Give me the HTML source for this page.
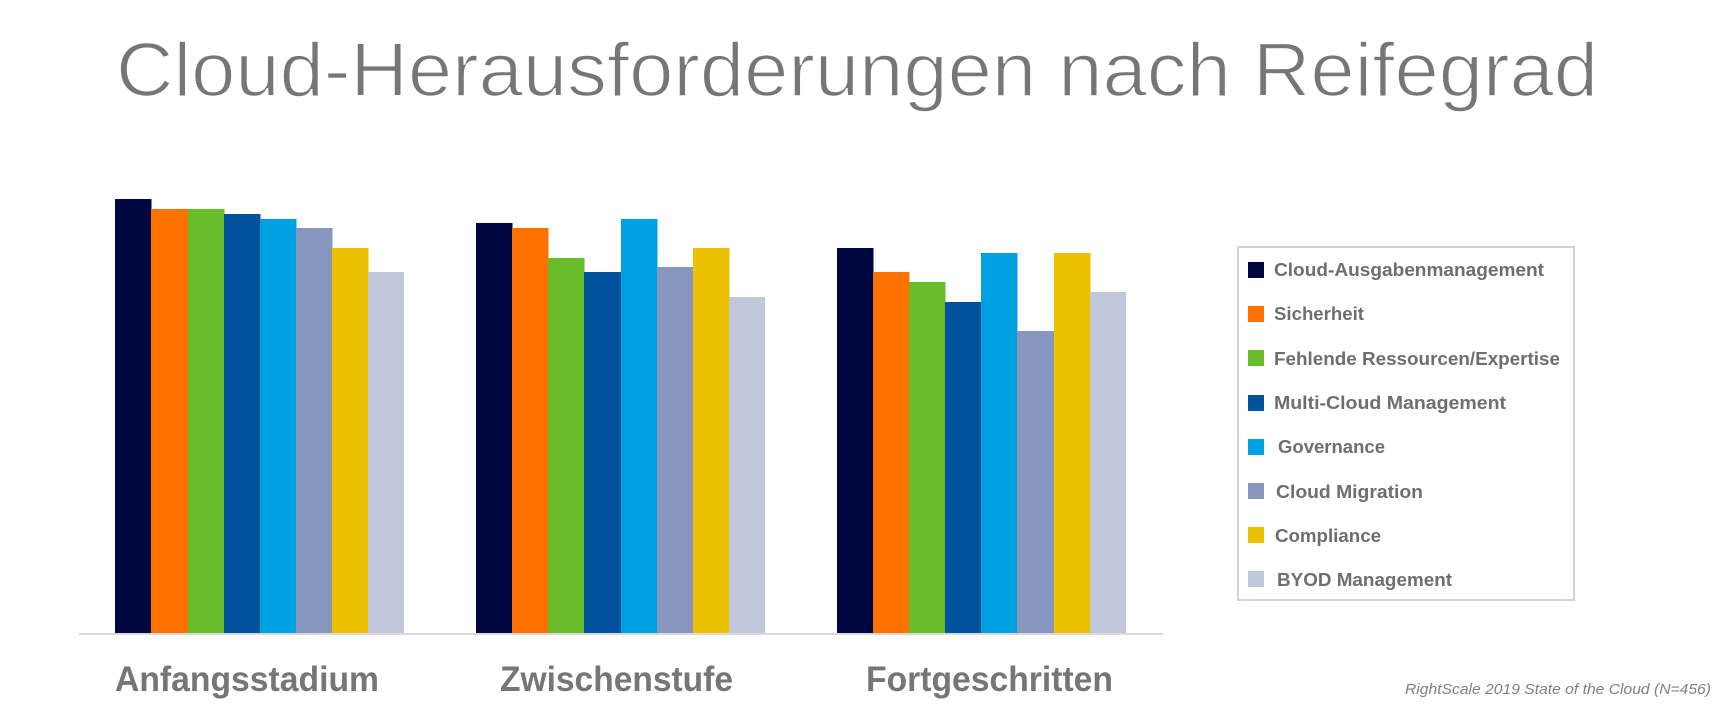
<!DOCTYPE html>
<html>
<head>
<meta charset="utf-8">
<style>
  html,body{margin:0;padding:0;background:#fff;}
  svg{display:block;}
  text{font-family:"Liberation Sans", sans-serif;}
</style>
</head>
<body>
<svg width="1736" height="725" viewBox="0 0 1736 725" xmlns="http://www.w3.org/2000/svg">
  <rect x="0" y="0" width="1736" height="725" fill="#fff"/>
  <!-- Title -->
  <text x="116" y="96" font-size="76" fill="#767676" stroke="#ffffff" stroke-width="1.6" textLength="1482" lengthAdjust="spacingAndGlyphs">Cloud-Herausforderungen nach Reifegrad</text>

  <!-- Group 1 -->
  <rect x="115" y="199" width="36.5" height="434" fill="#000640"/>
  <rect x="151" y="209" width="37.5" height="424" fill="#ff7200"/>
  <rect x="188" y="209" width="36.5" height="424" fill="#6abd2a"/>
  <rect x="224" y="214" width="36.5" height="419" fill="#00529b"/>
  <rect x="260" y="219" width="36.5" height="414" fill="#00a1e0"/>
  <rect x="296" y="228" width="36.5" height="405" fill="#8696bd"/>
  <rect x="332" y="248" width="36.5" height="385" fill="#ecc200"/>
  <rect x="368" y="272" width="36" height="361" fill="#c2c8db"/>

  <!-- Group 2 -->
  <rect x="476" y="223" width="36.5" height="410" fill="#000640"/>
  <rect x="512" y="228" width="36.5" height="405" fill="#ff7200"/>
  <rect x="548" y="258" width="36.5" height="375" fill="#6abd2a"/>
  <rect x="584" y="272" width="37.5" height="361" fill="#00529b"/>
  <rect x="621" y="219" width="36.5" height="414" fill="#00a1e0"/>
  <rect x="657" y="267" width="36.5" height="366" fill="#8696bd"/>
  <rect x="693" y="248" width="36.5" height="385" fill="#ecc200"/>
  <rect x="729" y="297" width="36" height="336" fill="#c2c8db"/>

  <!-- Group 3 -->
  <rect x="837" y="248" width="36.5" height="385" fill="#000640"/>
  <rect x="873" y="272" width="36.5" height="361" fill="#ff7200"/>
  <rect x="909" y="282" width="36.5" height="351" fill="#6abd2a"/>
  <rect x="945" y="302" width="36.5" height="331" fill="#00529b"/>
  <rect x="981" y="253" width="36.5" height="380" fill="#00a1e0"/>
  <rect x="1017" y="331" width="37.5" height="302" fill="#8696bd"/>
  <rect x="1054" y="253" width="36.5" height="380" fill="#ecc200"/>
  <rect x="1090" y="292" width="36" height="341" fill="#c2c8db"/>

  <!-- Axis -->
  <rect x="79" y="633" width="1084" height="2" fill="#d9d9d9"/>

  <!-- Category labels -->
  <text x="115" y="691" font-size="35" font-weight="bold" fill="#767676" textLength="264" lengthAdjust="spacingAndGlyphs">Anfangsstadium</text>
  <text x="500" y="691" font-size="35" font-weight="bold" fill="#767676" textLength="233" lengthAdjust="spacingAndGlyphs">Zwischenstufe</text>
  <text x="866" y="691" font-size="35" font-weight="bold" fill="#767676" textLength="247" lengthAdjust="spacingAndGlyphs">Fortgeschritten</text>

  <!-- Legend -->
  <rect x="1238" y="247" width="336" height="353" fill="#fff" stroke="#d5d3c7" stroke-width="2"/>
  <g font-size="18.5" font-weight="bold" fill="#6e6e6e">
    <rect x="1248" y="262" width="16" height="16" fill="#000640"/>
    <text x="1274" y="276" textLength="270" lengthAdjust="spacingAndGlyphs">Cloud-Ausgabenmanagement</text>
    <rect x="1248" y="306" width="16" height="16" fill="#ff7200"/>
    <text x="1274" y="320" textLength="90" lengthAdjust="spacingAndGlyphs">Sicherheit</text>
    <rect x="1248" y="350" width="16" height="16" fill="#6abd2a"/>
    <text x="1274" y="365" textLength="286" lengthAdjust="spacingAndGlyphs">Fehlende Ressourcen/Expertise</text>
    <rect x="1248" y="395" width="16" height="16" fill="#00529b"/>
    <text x="1274" y="409" textLength="232" lengthAdjust="spacingAndGlyphs">Multi-Cloud Management</text>
    <rect x="1248" y="439" width="16" height="16" fill="#00a1e0"/>
    <text x="1278" y="453" textLength="107" lengthAdjust="spacingAndGlyphs">Governance</text>
    <rect x="1248" y="483" width="16" height="16" fill="#8696bd"/>
    <text x="1276" y="498" textLength="147" lengthAdjust="spacingAndGlyphs">Cloud Migration</text>
    <rect x="1248" y="527" width="16" height="16" fill="#ecc200"/>
    <text x="1275" y="542" textLength="106" lengthAdjust="spacingAndGlyphs">Compliance</text>
    <rect x="1248" y="571" width="16" height="16" fill="#c2c8db"/>
    <text x="1277" y="586" textLength="175" lengthAdjust="spacingAndGlyphs">BYOD Management</text>
  </g>

  <!-- Footnote -->
  <text x="1405" y="694" font-size="14.5" font-style="italic" fill="#808080" textLength="306" lengthAdjust="spacingAndGlyphs">RightScale 2019 State of the Cloud (N=456)</text>
</svg>
</body>
</html>
